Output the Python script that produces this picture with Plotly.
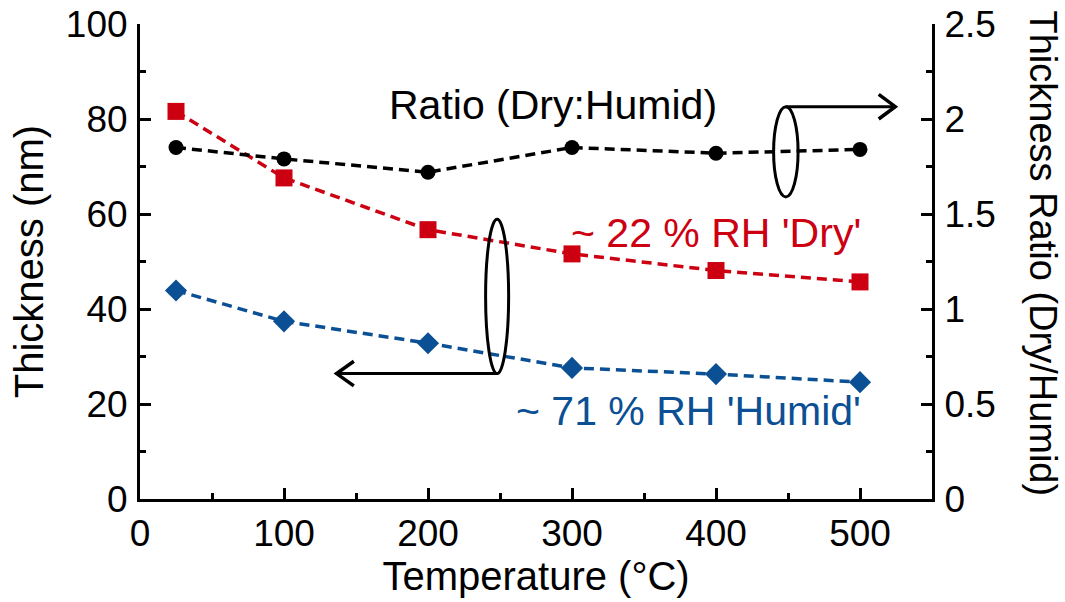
import plotly.graph_objects as go

# Annealing temperature (°C)
temperature = [25, 100, 200, 300, 400, 500]
# Film thickness at ~22 % RH (nm)
thickness_dry = [81.6, 67.6, 56.7, 51.6, 48.1, 45.7]
# Film thickness at ~71 % RH (nm)
thickness_humid = [43.9, 37.4, 32.8, 27.6, 26.3, 24.6]
# Thickness ratio dry / humid
ratio = [1.85, 1.79, 1.72, 1.85, 1.82, 1.84]

RED = "#cc0011"
BLUE = "#0b4f94"
FONT = "Liberation Sans, Arial, sans-serif"
DASH = "10px,6px"
TICK_SIZE = 37
TITLE_SIZE = 40
LABEL_SIZE = 41

fig = go.Figure()

fig.add_trace(go.Scatter(
    x=temperature, y=thickness_dry, mode="lines+markers",
    line=dict(color=RED, width=3.5, dash=DASH),
    marker=dict(symbol="square", size=17, color=RED),
    name="~ 22 % RH 'Dry'", showlegend=False,
))
fig.add_trace(go.Scatter(
    x=temperature, y=thickness_humid, mode="lines+markers",
    line=dict(color=BLUE, width=3.5, dash=DASH),
    marker=dict(symbol="diamond", size=17, color=BLUE),
    name="~ 71 % RH 'Humid'", showlegend=False,
))
fig.add_trace(go.Scatter(
    x=temperature, y=ratio, mode="lines+markers", yaxis="y2",
    line=dict(color="black", width=3.5, dash=DASH),
    marker=dict(symbol="circle", size=15, color="black"),
    name="Ratio (Dry:Humid)", showlegend=False,
))

axis_common = dict(
    showline=True, linecolor="black", linewidth=3,
    ticks="inside", ticklen=11, tickwidth=3, tickcolor="black",
    showgrid=False, zeroline=False, automargin=False,
    tickfont=dict(family=FONT, size=TICK_SIZE, color="black"),
)
minor_common = dict(ticks="inside", ticklen=6, tickwidth=3, tickcolor="black")

fig.update_layout(
    width=1065, height=602,
    margin=dict(l=140, r=133, t=24, b=103),
    paper_bgcolor="white", plot_bgcolor="white",
    font=dict(family=FONT, color="black"),
    xaxis=dict(
        range=[0, 550], tickvals=[0, 100, 200, 300, 400, 500],
        minor=dict(tickvals=[50, 150, 250, 350, 450], **minor_common),
        title=dict(text="Temperature (°C)", font=dict(family=FONT, size=TITLE_SIZE),
                   standoff=0),
        ticklabelstandoff=0,
        **axis_common,
    ),
    yaxis=dict(
        range=[0, 100], tickvals=[0, 20, 40, 60, 80, 100],
        minor=dict(tickvals=[10, 30, 50, 70, 90], **minor_common),
        title=dict(text="Thickness (nm)", font=dict(family=FONT, size=TITLE_SIZE),
                   standoff=10),
        ticklabelstandoff=2,
        **axis_common,
    ),
    yaxis2=dict(
        range=[0, 2.5], tickvals=[0, 0.5, 1, 1.5, 2, 2.5],
        ticktext=["0", "0.5", "1", "1.5", "2", "2.5"],
        minor=dict(tickvals=[0.25, 0.75, 1.25, 1.75, 2.25], **minor_common),
        overlaying="y", side="right", ticklabelstandoff=2,
        **axis_common,
    ),
)

# Right-hand axis title, reading top to bottom
fig.add_annotation(
    text="Thickness Ratio (Dry/Humid)", textangle=90,
    xref="paper", yref="paper", x=1.0, y=0.5, xshift=134, yshift=8,
    showarrow=False, font=dict(family=FONT, size=38, color="black"),
)

# Series labels
fig.add_annotation(text="Ratio (Dry:Humid)", x=287, y=83.0, xref="x", yref="y",
                   showarrow=False, font=dict(family=FONT, size=LABEL_SIZE, color="black"))
fig.add_annotation(text="~ 22 % RH 'Dry'", x=502, y=56.0, xref="x", yref="y",
                   xanchor="right", showarrow=False,
                   font=dict(family=FONT, size=LABEL_SIZE, color=RED))
fig.add_annotation(text="~ 71 % RH 'Humid'", x=502, y=18.5, xref="x", yref="y",
                   xanchor="right", showarrow=False,
                   font=dict(family=FONT, size=LABEL_SIZE, color=BLUE))

# Ellipse + arrow pointing to the right axis (ratio)
fig.add_shape(type="circle", xref="x", yref="y", x0=440, x1=457, y0=63.6, y1=82.6,
              line=dict(color="black", width=3))
fig.add_shape(type="line", xref="x", yref="y", x0=448.5, x1=524, y0=82.6, y1=82.6,
              line=dict(color="black", width=3))
fig.add_shape(type="path", xref="x", yref="y",
              path="M 513,85.2 L 524.5,82.6 L 513,80.0",
              line=dict(color="black", width=3.5))

# Ellipse + arrow pointing to the left axis (thickness)
fig.add_shape(type="circle", xref="x", yref="y", x0=240, x1=256, y0=26.4, y1=58.9,
              line=dict(color="black", width=3))
fig.add_shape(type="line", xref="x", yref="y", x0=248, x1=137, y0=26.4, y1=26.4,
              line=dict(color="black", width=3))
fig.add_shape(type="path", xref="x", yref="y",
              path="M 148.5,29.0 L 136.5,26.4 L 148.5,23.8",
              line=dict(color="black", width=3.5))

fig.write_html("out.html")
